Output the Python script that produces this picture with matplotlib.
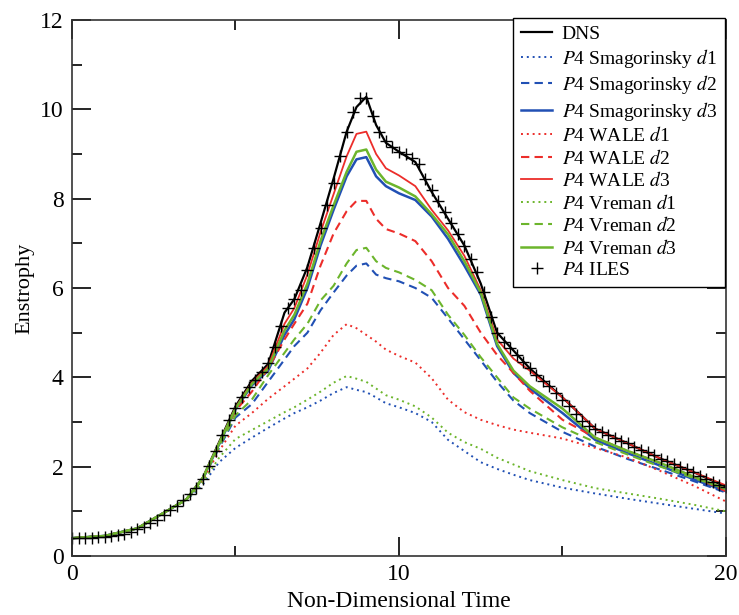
import numpy as np
import matplotlib
matplotlib.use("Agg")
import matplotlib.pyplot as plt
from matplotlib.ticker import MultipleLocator

plt.rcParams['font.family'] = ['Liberation Serif', 'DejaVu Serif']
plt.rcParams['mathtext.fontset'] = 'stix'

# time samples used by the LES / DNS curves
t = [0, 1, 2, 3, 3.5, 4, 4.5, 5, 5.5, 6, 6.5, 6.8, 7.2, 7.6, 8, 8.4, 8.7, 9,
     9.3, 9.6, 10, 10.5, 11, 11.5, 12, 12.5, 13, 13.5, 14, 15, 16, 17, 18, 19, 20]

dns = [0.40, 0.45, 0.62, 1.05, 1.27, 1.75, 2.55, 3.35, 3.92, 4.30, 5.45, 5.75, 6.47,
       7.45, 8.45, 9.50, 10.05, 10.28, 9.65, 9.25, 9.05, 8.82, 8.15, 7.55, 6.95, 6.10,
       5.00, 4.60, 4.20, 3.55, 2.85, 2.52, 2.18, 1.88, 1.55]

smag_d1 = [0.40, 0.45, 0.62, 1.05, 1.25, 1.60, 2.10, 2.42, 2.65, 2.87, 3.08, 3.20, 3.33,
           3.48, 3.65, 3.78, 3.72, 3.67, 3.55, 3.42, 3.33, 3.20, 3.00, 2.60, 2.35, 2.10,
           1.95, 1.82, 1.70, 1.53, 1.40, 1.28, 1.17, 1.06, 0.95]
smag_d2 = [0.40, 0.45, 0.62, 1.05, 1.27, 1.72, 2.42, 3.10, 3.40, 3.90, 4.40, 4.70, 5.00,
           5.50, 5.90, 6.28, 6.50, 6.55, 6.30, 6.22, 6.15, 6.00, 5.78, 5.32, 4.85, 4.38,
           3.90, 3.48, 3.20, 2.78, 2.45, 2.17, 1.93, 1.68, 1.42]
smag_d3 = [0.40, 0.45, 0.62, 1.05, 1.27, 1.74, 2.50, 3.28, 3.82, 4.15, 4.95, 5.30, 6.00,
           6.95, 7.75, 8.50, 8.88, 8.93, 8.50, 8.28, 8.12, 7.97, 7.60, 7.10, 6.50, 5.85,
           4.70, 4.10, 3.75, 3.20, 2.60, 2.30, 2.02, 1.72, 1.45]

wale_d1 = [0.40, 0.45, 0.62, 1.05, 1.26, 1.70, 2.35, 2.92, 3.20, 3.52, 3.80, 3.97, 4.20,
           4.55, 4.95, 5.19, 5.10, 4.95, 4.80, 4.62, 4.48, 4.33, 3.98, 3.50, 3.22, 3.05,
           2.93, 2.83, 2.76, 2.63, 2.42, 2.20, 1.90, 1.58, 1.22]
wale_d2 = [0.40, 0.45, 0.62, 1.05, 1.27, 1.74, 2.50, 3.25, 3.68, 4.20, 4.85, 5.20, 5.65,
           6.50, 7.22, 7.72, 7.95, 7.95, 7.55, 7.32, 7.22, 7.05, 6.60, 6.00, 5.60, 5.00,
           4.50, 4.10, 3.70, 3.05, 2.65, 2.35, 2.08, 1.78, 1.45]
wale_d3 = [0.40, 0.45, 0.62, 1.05, 1.27, 1.75, 2.53, 3.32, 3.88, 4.25, 5.20, 5.55, 6.30,
           7.25, 8.10, 8.95, 9.45, 9.50, 9.00, 8.68, 8.52, 8.28, 7.75, 7.29, 6.72, 5.95,
           4.85, 4.42, 4.15, 3.55, 2.85, 2.52, 2.18, 1.88, 1.58]

vrem_d1 = [0.40, 0.45, 0.62, 1.05, 1.25, 1.65, 2.20, 2.62, 2.82, 3.02, 3.22, 3.33, 3.50,
           3.68, 3.88, 4.03, 3.97, 3.90, 3.75, 3.60, 3.50, 3.35, 3.10, 2.76, 2.55, 2.40,
           2.20, 2.05, 1.90, 1.70, 1.52, 1.40, 1.28, 1.15, 1.00]
vrem_d2 = [0.40, 0.45, 0.62, 1.05, 1.27, 1.73, 2.45, 3.15, 3.50, 4.05, 4.55, 4.85, 5.20,
           5.72, 6.05, 6.55, 6.85, 6.90, 6.60, 6.45, 6.35, 6.18, 5.95, 5.40, 4.95, 4.45,
           4.00, 3.55, 3.30, 2.88, 2.55, 2.27, 2.00, 1.75, 1.50]
vrem_d3 = [0.40, 0.45, 0.62, 1.05, 1.27, 1.75, 2.52, 3.30, 3.85, 4.20, 5.05, 5.40, 6.10,
           7.05, 7.85, 8.60, 9.05, 9.10, 8.65, 8.38, 8.25, 8.05, 7.65, 7.20, 6.60, 5.90,
           4.75, 4.15, 3.80, 3.30, 2.65, 2.35, 2.08, 1.78, 1.50]

# ILES samples every 0.2 time units
iles_t = np.linspace(0, 20, 101)
iles = [0.40, 0.40, 0.40, 0.41, 0.42, 0.43, 0.45, 0.47, 0.50, 0.54, 0.60,
        0.66, 0.73, 0.81, 0.91, 1.02, 1.13, 1.25, 1.38, 1.52, 1.72,
        2.02, 2.35, 2.70, 3.05, 3.32, 3.55, 3.78, 3.95, 4.12, 4.32,
        4.68, 5.15, 5.55, 5.75, 5.95, 6.40, 6.90, 7.35, 7.85, 8.35,
        8.95, 9.50, 9.95, 10.25, 10.25, 9.85, 9.50, 9.30, 9.15, 9.05,
        9.00, 8.92, 8.78, 8.45, 8.20, 7.95, 7.70, 7.45, 7.22, 6.95,
        6.65, 6.35, 5.90, 5.35, 5.00, 4.80, 4.65, 4.50, 4.35, 4.20,
        4.05, 3.92, 3.80, 3.65, 3.50, 3.35, 3.18, 3.02, 2.92, 2.85,
        2.78, 2.72, 2.65, 2.58, 2.52, 2.45, 2.38, 2.32, 2.26, 2.18,
        2.12, 2.06, 2.00, 1.94, 1.88, 1.80, 1.73, 1.66, 1.60, 1.55]

blue = '#2150b4'
red = '#ec2d2a'
green = '#6cb52c'
dot = (0, (1, 2))
dash = (0, (4, 2.5))

fig = plt.figure(figsize=(7.39, 6.15), dpi=100)
ax = fig.add_axes([0.0974, 0.0959, 0.885, 0.8716])

ax.plot(t, dns, color='black', lw=1.6, label='DNS')
ax.plot(t, smag_d1, color=blue, lw=1.4, ls=dot, label='$P$4 Smagorinsky $d$1')
ax.plot(t, smag_d2, color=blue, lw=1.5, ls=dash, label='$P$4 Smagorinsky $d$2')
ax.plot(t, smag_d3, color=blue, lw=1.8, label='$P$4 Smagorinsky $d$3')
ax.plot(t, wale_d1, color=red, lw=1.4, ls=dot, label='$P$4 WALE $d$1')
ax.plot(t, wale_d2, color=red, lw=1.5, ls=dash, label='$P$4 WALE $d$2')
ax.plot(t, wale_d3, color=red, lw=1.3, label='$P$4 WALE $d$3')
ax.plot(t, vrem_d1, color=green, lw=1.4, ls=dot, label='$P$4 Vreman $d$1')
ax.plot(t, vrem_d2, color=green, lw=1.5, ls=dash, label='$P$4 Vreman $d$2')
ax.plot(t, vrem_d3, color=green, lw=1.8, label='$P$4 Vreman $d$3')
ax.plot(iles_t, iles, ls='none', marker='+', ms=9, mew=1.0, color='black',
        label='$P$4 ILES')

ax.set_xlim(0, 20)
ax.set_ylim(0, 12)
ax.xaxis.set_major_locator(MultipleLocator(10))
ax.xaxis.set_minor_locator(MultipleLocator(5))
ax.yaxis.set_major_locator(MultipleLocator(2))
ax.yaxis.set_minor_locator(MultipleLocator(1))
ax.tick_params(which='both', direction='in', top=True, right=True,
               labelsize=17, width=1.2, pad=6)
ax.tick_params(which='major', length=14)
ax.tick_params(which='minor', length=7)
for s in ax.spines.values():
    s.set_linewidth(1.2)
    s.set_color('#333333')

ax.set_xlabel('Non-Dimensional Time', fontsize=17, labelpad=4)
ax.set_ylabel('Enstrophy', fontsize=16, labelpad=4)

leg = ax.legend(loc='upper right', fontsize=14, frameon=True, fancybox=False,
                edgecolor='black', framealpha=1, borderaxespad=0,
                handlelength=1.6, handletextpad=0.5, labelspacing=0.18,
                borderpad=0.4, bbox_to_anchor=(0.998, 1.004))
leg.get_frame().set_linewidth(1.0)

fig.savefig('out.png', dpi=100)
